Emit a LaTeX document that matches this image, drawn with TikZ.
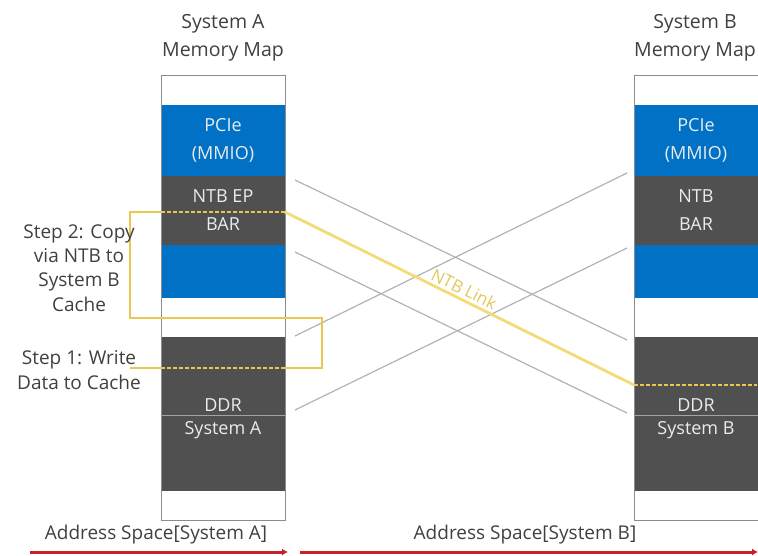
\documentclass[tikz,border=0pt]{standalone}
\usepackage{fontspec}
\setmainfont{Open Sans}
\usetikzlibrary{arrows.meta}
\definecolor{ntbblue}{RGB}{0,113,197}
\definecolor{darkg}{RGB}{80,80,80}
\definecolor{blocktext}{RGB}{232,236,240}
\definecolor{titlegrey}{RGB}{64,64,64}
\definecolor{boxyellow}{RGB}{232,200,80}
\definecolor{linkyellow}{RGB}{242,220,120}
\definecolor{linktext}{RGB}{225,200,90}
\definecolor{crossgrey}{RGB}{178,178,178}
\definecolor{bordergrey}{RGB}{140,140,140}
\definecolor{arrowred}{RGB}{200,32,40}
\tikzset{
  blk/.style={minimum width=124pt, anchor=north west, inner sep=0pt, outer sep=0pt,
    text=blocktext, font=\fontsize{18}{28}\selectfont, align=center},
  blktxt/.style={text=blocktext, font=\fontsize{18}{22}\selectfont, inner sep=0pt},
  title/.style={text=titlegrey, font=\fontsize{19.5}{28}\selectfont, align=center, inner sep=0pt},
  steptxt/.style={text=titlegrey, font=\fontsize{19}{24.3}\selectfont, align=center, inner sep=0pt},
  addrtxt/.style={text=titlegrey, font=\fontsize{19}{22}\selectfont, inner sep=0pt},
  outline/.style={draw=bordergrey, line width=0.8pt},
  divider/.style={draw=bordergrey!80, line width=0.6pt},
  crossline/.style={draw=crossgrey, line width=1.2pt},
  ybox/.style={draw=boxyellow, line width=1.8pt},
  ydash/.style={draw=boxyellow, line width=1.8pt, dash pattern=on 4pt off 2pt},
  ylink/.style={draw=linkyellow, line width=2.8pt},
  redarrow/.style={draw=arrowred, line width=3pt, -{Latex[length=6pt,width=7pt]}},
}
\begin{document}
\begin{tikzpicture}[x=1pt,y=-1pt]
\useasboundingbox (0,0) rectangle (758,556);

% ---- titles
\node[title] (titleA) at (223,38) {System A\\Memory Map};
\node[title] (titleB) at (695,38) {System B\\Memory Map};

% ---- column A
\node[blk, fill=white,    minimum height=30pt]  (aTop)   at (161,75)  {};
\node[blk, fill=ntbblue,  minimum height=71pt]  (aPcie)  at (161,105) {PCIe\\(MMIO)};
\node[blk, fill=darkg,    minimum height=69pt]  (aNtb)   at (161,176) {\raisebox{-3pt}{NTB EP}\\\raisebox{-3pt}{BAR}};
\node[blk, fill=ntbblue,  minimum height=53pt]  (aBlue)  at (161,245) {};
\node[blk, fill=white,    minimum height=39pt]  (aWhite) at (161,298) {};
\node[blk, fill=darkg,    minimum height=154pt] (aDdr)   at (161,337) {};
\node[blk, fill=white,    minimum height=29pt]  (aBot)   at (161,491) {};
\draw[divider] (161,415) -- (285,415);
\node[blktxt] (aDdrT1) at (223,405) {DDR};
\node[blktxt] (aDdrT2) at (223,430) {System A};
\draw[outline] (aTop.north west) rectangle (aBot.south east);

% ---- column B
\node[blk, fill=white,    minimum height=30pt]  (bTop)   at (634,75)  {};
\node[blk, fill=ntbblue,  minimum height=71pt]  (bPcie)  at (634,105) {PCIe\\(MMIO)};
\node[blk, fill=darkg,    minimum height=69pt]  (bNtb)   at (634,176) {\raisebox{-3pt}{NTB}\\\raisebox{-3pt}{BAR}};
\node[blk, fill=ntbblue,  minimum height=53pt]  (bBlue)  at (634,245) {};
\node[blk, fill=white,    minimum height=39pt]  (bWhite) at (634,298) {};
\node[blk, fill=darkg,    minimum height=154pt] (bDdr)   at (634,337) {};
\node[blk, fill=white,    minimum height=29pt]  (bBot)   at (634,491) {};
\draw[divider] (634,415) -- (758,415);
\node[blktxt] (bDdrT1) at (696,405) {DDR};
\node[blktxt] (bDdrT2) at (696,430) {System B};
\draw[outline] (bTop.north west) rectangle (bBot.south east);

% ---- cross mapping lines
\coordinate (a1) at (295,180);
\coordinate (a2) at (295,252);
\coordinate (a3) at (295,336);
\coordinate (a4) at (295,410);
\coordinate (b1) at (627,173);
\coordinate (b2) at (627,248);
\coordinate (b3) at (627,340);
\coordinate (b4) at (627,413);
\draw[crossline] (a1) -- (b3);
\draw[crossline] (a2) -- (b4);
\draw[crossline] (b1) -- (a3);
\draw[crossline] (b2) -- (a4);

% ---- yellow step boxes and NTB link
\coordinate (s2a) at (130,212);
\coordinate (s2b) at (161,212);
\coordinate (s2c) at (285,212);
\coordinate (s2d) at (130,318);
\coordinate (s1a) at (322,318);
\coordinate (s1b) at (322,368);
\coordinate (s1c) at (285,368);
\coordinate (s1d) at (161,368);
\coordinate (s1e) at (130,368);
\coordinate (lb1) at (634,385);
\coordinate (lb2) at (757,385);
\draw[ybox] (s2b) -- (s2a) -- (s2d) -- (s1a) -- (s1b) -- (s1c);
\draw[ybox] (s1d) -- (s1e);
\draw[ydash] (s2b) -- (s2c);
\draw[ydash] (s1c) -- (s1d);
\draw[ylink] (s2c) -- (lb1);
\draw[ydash] (lb1) -- (lb2);
\path (s2c) -- (lb1) node[pos=0.5, sloped, above=4pt, text=linktext, font=\fontsize{17}{20}\selectfont, inner sep=0pt] (linkT) {NTB Link};

% ---- step labels
\node[steptxt] (step2) at (79,268) {Step 2: Copy\\via NTB to\\System B\\Cache};
\node[steptxt] (step1) at (79,370) {Step 1: Write\\Data to Cache};

% ---- address space
\node[addrtxt] (addrA) at (156,535) {Address Space[System A]};
\node[addrtxt] (addrB) at (525,535) {Address Space[System B]};
\coordinate (ra1) at (30,552);
\coordinate (ra2) at (288,552);
\coordinate (rb1) at (300,552);
\coordinate (rb2) at (758,552);
\draw[redarrow] (ra1) -- (ra2);
\draw[redarrow] (rb1) -- (rb2);
\end{tikzpicture}
\end{document}
